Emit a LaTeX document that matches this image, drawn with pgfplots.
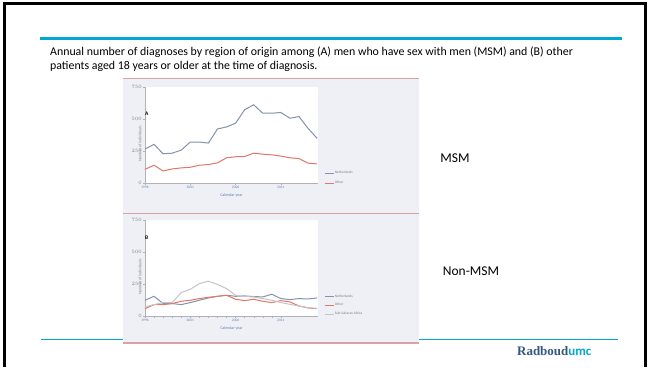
\documentclass[border=0pt]{standalone}
\usepackage{pgfplots}
\pgfplotsset{compat=1.18}
\usepackage{fontspec}
\setmainfont{Carlito}
\newfontfamily\serifl{Liberation Serif}
\definecolor{nl}{HTML}{8492AE}
\definecolor{oth}{HTML}{E07868}
\definecolor{ssa}{HTML}{CBC2C8}
\definecolor{cyanline}{HTML}{00A8D2}
\definecolor{bggray}{HTML}{EEF0F5}
\definecolor{tickblue}{HTML}{5C80B8}
\definecolor{pinkline}{HTML}{D9A3A3}
\definecolor{radblue}{HTML}{33577D}

\pgfplotstableread{
year nl oth
1996 265 107
1997 302 139
1998 228 94
1999 233 110
2000 257 118
2001 320 123
2002 320 139
2003 312 144
2004 422 157
2005 438 197
2006 467 205
2007 572 207
2008 611 233
2009 545 225
2010 545 220
2011 551 210
2012 506 197
2013 519 191
2014 427 155
2015 349 149
}\msm

\pgfplotstableread{
year nl oth ssa
1996 123 57 71
1997 154 89 89
1998 97 89 105
1999 97 97 105
2000 89 115 183
2001 105 123 209
2002 123 136 253
2003 141 146 272
2004 154 154 246
2005 162 162 214
2006 154 131 162
2007 157 120 152
2008 152 131 149
2009 149 115 136
2010 170 105 123
2011 136 120 105
2012 128 110 91
2013 136 78 78
2014 133 63 65
2015 141 57 60
}\nonmsm

\pgfplotsset{
  panel/.style={
    scale only axis,
    width=173bp, height=96bp,
    xmin=1996, xmax=2015.1, ymin=0, ymax=750,
    axis x line*=bottom, axis y line*=left,
    axis line style={draw=gray!60, line width=0.4bp},
    axis background/.style={fill=white},
    xtick={1996,2001,2006,2011},
    xticklabels={1996,2001,2006,2011},
    minor x tick num=4,
    ytick={0,250,500,750},
    tick style={draw=gray!60, line width=0.3bp},
    major tick length=2bp, minor tick length=1.5bp,
    tick align=outside,
    xticklabel style={font=\fontsize{3.6}{4}\selectfont, text=tickblue, inner sep=1bp},
    yticklabel style={font=\fontsize{3.6}{4}\selectfont, text=gray, inner sep=1bp},
    xlabel={Calendar year},
    ylabel={Number of individuals},
    every axis x label/.style={at={(axis description cs:0.5,0)}, anchor=north, yshift=-7bp,
      font=\fontsize{4}{5}\selectfont, text=tickblue},
    every axis y label/.style={at={(axis description cs:0,0.5)}, rotate=90, anchor=south, xshift=-9bp,
      font=\fontsize{4}{5}\selectfont, text=gray},
    legend image code/.code={\draw[#1] (0bp,0bp)--(9bp,0bp);},
    legend cell align=left,
    legend style={draw=none, fill=none, inner sep=0bp,
      font=\fontsize{3.6}{4}\selectfont, text=gray,
      nodes={inner sep=0.6bp}},
    clip=false,
  }
}

\begin{document}
\begin{tikzpicture}[x=1bp,y=1bp]
\useasboundingbox (0,0) rectangle (649,367);
\fill[white] (0,0) rectangle (649,367);
% black frame
\draw[black, line width=3bp] (4,0) -- (4,363) -- (645,363) -- (645,0);
% cyan title line
\draw[cyanline, line width=3bp] (40,367-38) -- (622,367-38);
% caption
\node[anchor=base west, inner sep=0, font=\fontsize{11.9}{13}\selectfont] at (50,367-55) {Annual number of diagnoses by region of origin among (A) men who have sex with men (MSM) and (B) other};
\node[anchor=base west, inner sep=0, font=\fontsize{11.9}{13}\selectfont] at (50,367-69) {patients aged 18 years or older at the time of diagnosis.};
% footer line
\draw[cyanline, line width=0.9bp] (41,367-339) -- (618,367-339);
% graphic background
\fill[bggray] (123,367-343) rectangle (419,367-78);
\draw[pinkline, line width=0.8bp] (123,367-78) -- (419,367-78);
\draw[pinkline, line width=0.8bp] (123,367-213) -- (419,367-213);
\draw[pinkline, line width=1.2bp] (123,367-343) -- (419,367-343);

% Panel A
\begin{axis}[panel, at={(145bp,184bp)}, anchor=south west,
  legend style={at={(axis description cs:1.035,0.049)}, anchor=west, row sep=5bp}]
\addplot[nl, line width=1bp] table[x=year,y=nl] {\msm};
\addlegendentry{Netherlands}
\addplot[oth, line width=1bp] table[x=year,y=oth] {\msm};
\addlegendentry{Other}
\node[font=\bfseries\fontsize{5.5}{6}\selectfont, anchor=west, inner sep=0] at (axis cs:1996,540) {A};
\end{axis}

% Panel B
\begin{axis}[panel, at={(145bp,51bp)}, anchor=south west,
  legend style={at={(axis description cs:1.035,0.111)}, anchor=west, row sep=3.5bp}]
\addplot[nl, line width=1bp] table[x=year,y=nl] {\nonmsm};
\addlegendentry{Netherlands}
\addplot[oth, line width=1bp] table[x=year,y=oth] {\nonmsm};
\addlegendentry{Other}
\addplot[ssa, line width=1bp] table[x=year,y=ssa] {\nonmsm};
\addlegendentry{Sub-Saharan Africa}
\node[font=\bfseries\fontsize{5.5}{6}\selectfont, anchor=west, inner sep=0] at (axis cs:1996,610) {B};
\end{axis}

% side labels
\node[font=\fontsize{13.5}{15}\selectfont, inner sep=0] at (455,367-158) {MSM};
\node[font=\fontsize{13.5}{15}\selectfont, inner sep=0] at (471,367-271) {Non-MSM};
% logo
\node[anchor=base west, inner sep=0] at (517,367-355) {{\serifl\bfseries\fontsize{13}{14}\selectfont\color{radblue}Radboud}{\bfseries\fontsize{13}{14}\selectfont\color{cyanline}umc}};
\end{tikzpicture}
\end{document}
